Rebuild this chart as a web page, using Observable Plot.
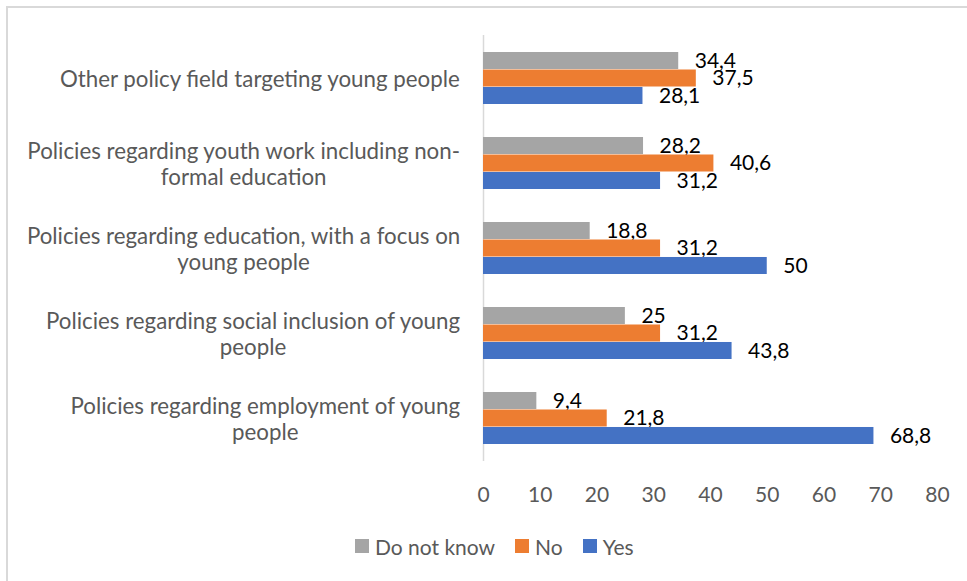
<!DOCTYPE html>
<html><head><meta charset="utf-8">
<script src="https://cdn.jsdelivr.net/npm/d3@7"></script>
<script src="https://cdn.jsdelivr.net/npm/@observablehq/plot@0.6"></script>
<style>
html,body{margin:0;padding:0;background:#fff;}
body{width:967px;height:581px;overflow:hidden;position:relative;font-family:Lato,sans-serif;}
#frame{position:absolute;left:6px;top:6px;width:1200px;height:1200px;border-left:2px solid #d9d9d9;border-top:2px solid #d9d9d9;pointer-events:none;}
#chart svg{display:block;}
#legend{height:52px;display:flex;align-items:center;padding-left:355px;}
#legend > div{margin:0 !important;font-family:Lato,sans-serif !important;font-size:21px !important;color:#595959 !important;min-height:0 !important;}
#legend span{margin-right:20px !important;}
#legend span > svg{margin-right:6px !important;}
</style></head><body>
<div id="frame"></div>
<div id="chart"></div>
<div id="legend"></div>
<script>
const categories = [
  "Other policy field targeting young people",
  "Policies regarding youth work including non-formal education",
  "Policies regarding education, with a focus on young people",
  "Policies regarding social inclusion of young people",
  "Policies regarding employment of young people"
];
const categoryLines = [
  ["Other policy field targeting young people"],
  ["Policies regarding youth work including non-", "formal education"],
  ["Policies regarding education, with a focus on", "young people"],
  ["Policies regarding social inclusion of young", "people"],
  ["Policies regarding employment of young", "people"]
];
const series = ["Do not know", "No", "Yes"];
const doNotKnow = [34.4, 28.2, 18.8, 25, 9.4];
const no = [37.5, 40.6, 31.2, 31.2, 21.8];
const yes = [28.1, 31.2, 50, 43.8, 68.8];
const xTicks = [0, 10, 20, 30, 40, 50, 60, 70, 80];
const colors = ["#A5A5A5", "#ED7D31", "#4472C4"];

// layout
const W = 967, H = 520, mt = 35, mb = 59, ml = 483, mr = 30;
const padInner = 0.384;
const step = (H - mt - mb) / categories.length;
const bw = step * (1 - padInner);
const third = bw / 3;
const FS = 21;
const CAT_FS = 22.3;
const FONT = "Lato";

const fmt = v => String(v).replace(".", ",");
const seriesValues = [doNotKnow, no, yes];
const rowsFor = k => categories.map((c, i) => ({category: c, value: seriesValues[k][i], series: series[k]}));

const ctx = document.createElement("canvas").getContext("2d");
ctx.font = `${CAT_FS}px ${FONT}`;
const labelWidth = lines => Math.max(...lines.map(l => ctx.measureText(l).width));

const marks = [Plot.ruleX([0], {stroke: "#d9d9d9", strokeWidth: 1.5})];
series.forEach((s, k) => {
  const rows = rowsFor(k);
  marks.push(Plot.barX(rows, {
    x: "value", y: "category", fill: "series",
    insetTop: k * third, insetBottom: (2 - k) * third
  }));
  marks.push(Plot.text(rows, {
    x: "value", y: "category", text: d => fmt(d.value),
    textAnchor: "start", dx: 16, dy: (k - 1) * third, fill: "#000"
  }));
});
categories.forEach((c, i) => {
  const lines = categoryLines[i];
  marks.push(Plot.text([c], {
    y: d => d, text: () => lines.join("\n"),
    frameAnchor: "left", textAnchor: "middle", fontSize: CAT_FS,
    dx: -23 - labelWidth(lines) / 2, lineHeight: 26 / CAT_FS, fill: "#595959"
  }));
});

const plot = Plot.plot({
  width: W, height: H,
  marginTop: mt, marginBottom: mb, marginLeft: ml, marginRight: mr,
  style: {fontFamily: FONT, fontSize: FS + "px", color: "#595959", background: "transparent"},
  x: {domain: [0, 80], ticks: xTicks, tickSize: 0, tickPadding: 26, label: null, tickFormat: d => String(d)},
  y: {domain: categories, axis: null, paddingInner: padInner, paddingOuter: padInner / 2},
  color: {domain: series, range: colors},
  marks
});
document.getElementById("chart").appendChild(plot);
const lg = plot.legend("color", {swatchSize: 14});
document.getElementById("legend").appendChild(lg);
</script>
</body></html>
